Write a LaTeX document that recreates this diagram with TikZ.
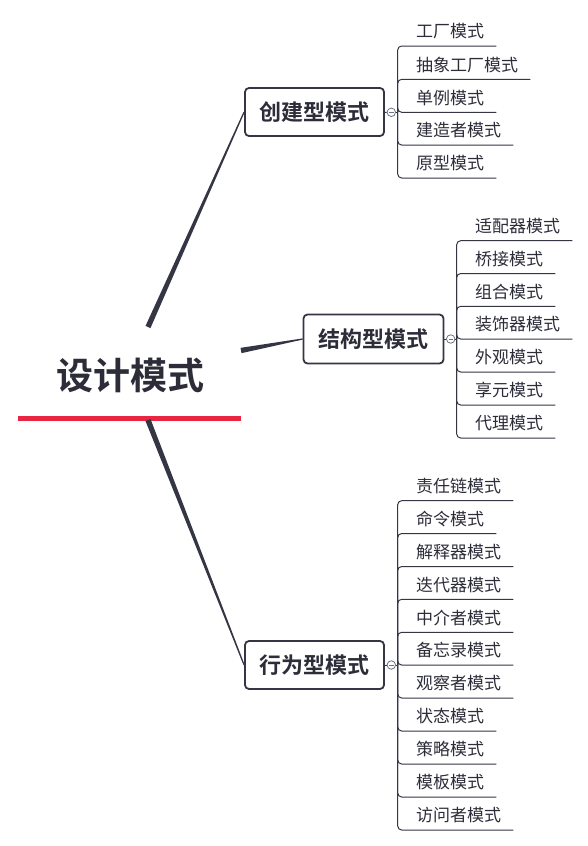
\documentclass[tikz,border=0pt]{standalone}
\usepackage{fontspec}
\newfontfamily\cjk{Noto Sans CJK SC}
\newfontfamily\cjkbold{Noto Sans CJK SC Bold}
\usetikzlibrary{calc}
\definecolor{linecol}{RGB}{52,54,68}
\definecolor{textcol}{RGB}{45,45,58}
\definecolor{redbar}{RGB}{233,38,66}
\definecolor{circcol}{RGB}{110,115,130}
\tikzset{
  rootnode/.style={inner sep=0pt, text=textcol, font=\cjkbold\fontsize{37}{42}\selectfont},
  branchbox/.style={draw=linecol, line width=1.8pt, rounded corners=4pt, fill=white,
    minimum width=139pt, minimum height=48pt, inner sep=0pt, text=textcol,
    font=\cjkbold\fontsize{22}{25}\selectfont},
  togglecirc/.style={circle, draw=circcol, line width=0.8pt, fill=white, minimum size=8.5pt, inner sep=0pt},
  leafnode/.style={anchor=south west, inner sep=0pt, text height=13pt, text depth=8pt,
    text=textcol, font=\cjk\fontsize{17}{20}\selectfont},
  conn/.style={draw=linecol, line width=1pt, rounded corners=4pt},
  plainconn/.style={draw=linecol, line width=1pt},
}
\newcommand{\taper}[4]{%
  \fill[linecol] ($(#1)!#3!90:(#2)$) -- ($(#2)!#4!-90:(#1)$) -- ($(#2)!#4!90:(#1)$) -- ($(#1)!#3!-90:(#2)$) -- cycle;}
\newcommand{\togglemark}[1]{\draw[circcol, line width=0.7pt] ($(#1)+(-2.2,0)$) -- ($(#1)+(2.2,0)$);}
\begin{document}
\begin{tikzpicture}[x=1pt, y=-1pt]
\useasboundingbox (0,0) rectangle (588,846);

% root
\node[rootnode] (root) at (130,375) {设计模式};
\fill[redbar] (18,415.5) rectangle (241,420.5);
\coordinate (r1) at (148,327);
\coordinate (r2) at (241,350.5);
\coordinate (r3) at (148,420);

% branches
\node[branchbox] (b1) at (314.5,112) {创建型模式};
\node[branchbox, minimum width=140pt, minimum height=49pt] (b2) at (373.5,339) {结构型模式};
\node[branchbox] (b3) at (314.5,665) {行为型模式};

\taper{r1}{b1.west}{2.7pt}{0.6pt}
\taper{r2}{b2.west}{2.7pt}{0.6pt}
\taper{r3}{b3.west}{2.7pt}{0.6pt}

% toggle circles and junctions
\node[togglecirc] (c1) at (391.3,112.3) {};
\node[togglecirc] (c2) at (450.7,339) {};
\node[togglecirc] (c3) at (391.3,665) {};
\coordinate (j1) at (397.7,112.3);
\coordinate (j2) at (456.7,339);
\coordinate (j3) at (397.7,665);
\draw[plainconn] (b1) -- (c1);
\draw[plainconn] (c1) -- (j1);
\draw[plainconn] (b2) -- (c2);
\draw[plainconn] (c2) -- (j2);
\draw[plainconn] (b3) -- (c3);
\draw[plainconn] (c3) -- (j3);
\togglemark{c1}
\togglemark{c2}
\togglemark{c3}

% leaves of branch 1
\node[leafnode] (a1) at (416,46) {工厂模式};
\node[leafnode] (a2) at (416,79.3) {抽象工厂模式};
\node[leafnode] (a3) at (416,112.3) {单例模式};
\node[leafnode] (a4) at (416,145) {建造者模式};
\node[leafnode] (a5) at (416,178) {原型模式};
\foreach \n in {a1,a2,a3,a4,a5}
  \draw[conn] (j1) |- ($(\n.south east)+(12,0)$);

% leaves of branch 2
\node[leafnode] (s1) at (475,240.7) {适配器模式};
\node[leafnode] (s2) at (475,273.5) {桥接模式};
\node[leafnode] (s3) at (475,306.3) {组合模式};
\node[leafnode] (s4) at (475,339) {装饰器模式};
\node[leafnode] (s5) at (475,372) {外观模式};
\node[leafnode] (s6) at (475,405) {享元模式};
\node[leafnode] (s7) at (475,438) {代理模式};
\foreach \n in {s1,s2,s3,s4,s5,s6,s7}
  \draw[conn] (j2) |- ($(\n.south east)+(12,0)$);

% leaves of branch 3
\node[leafnode] (v1) at (416,500.7) {责任链模式};
\node[leafnode] (v2) at (416,533.5) {命令模式};
\node[leafnode] (v3) at (416,566.5) {解释器模式};
\node[leafnode] (v4) at (416,599.3) {迭代器模式};
\node[leafnode] (v5) at (416,632.3) {中介者模式};
\node[leafnode] (v6) at (416,665) {备忘录模式};
\node[leafnode] (v7) at (416,698) {观察者模式};
\node[leafnode] (v8) at (416,731) {状态模式};
\node[leafnode] (v9) at (416,764) {策略模式};
\node[leafnode] (v10) at (416,797) {模板模式};
\node[leafnode] (v11) at (416,830) {访问者模式};
\foreach \n in {v1,v2,v3,v4,v5,v6,v7,v8,v9,v10,v11}
  \draw[conn] (j3) |- ($(\n.south east)+(12,0)$);
\end{tikzpicture}
\end{document}
